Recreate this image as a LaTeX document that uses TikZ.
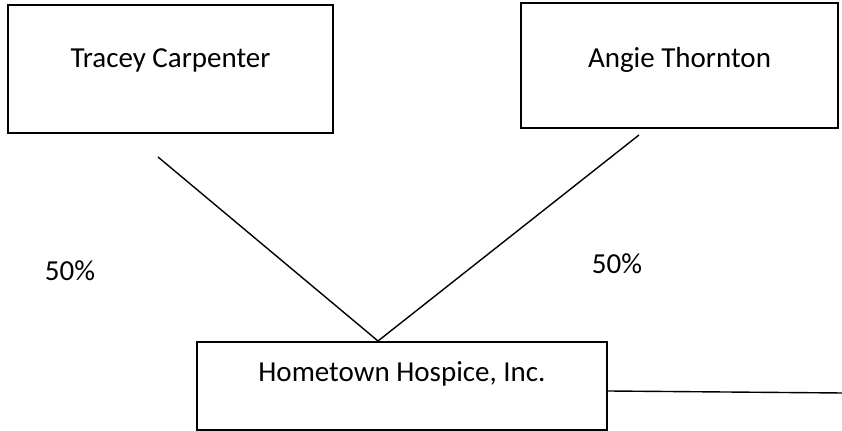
\documentclass[tikz,border=0pt]{standalone}
\usepackage{fontspec}
\setmainfont{Carlito}
\usepackage{tikz}
\usetikzlibrary{positioning, calc}

\begin{document}
\begin{tikzpicture}[x=0.5pt, y=-0.5pt, font=\fontsize{14.5}{17}\selectfont]
\useasboundingbox (0,0) rectangle (842,431);

% Owner boxes
\node[draw, rectangle, line width=1pt, minimum width=162.5pt, minimum height=64pt, inner sep=0pt] (tracey) at (170.5,69) {};
\node[below=19pt of tracey.north] (traceyname) {Tracey Carpenter};

\node[draw, rectangle, line width=1pt, minimum width=158.5pt, minimum height=62.5pt, inner sep=0pt] (angie) at (679.5,65.5) {};
\node[below=19pt of angie.north] (angiename) {Angie Thornton};

% Company box
\node[draw, rectangle, line width=1pt, minimum width=205pt, minimum height=44pt, inner sep=0pt] (hospice) at (402,386) {};
\node[below=6.5pt of hospice.north] (hospicename) {Hometown Hospice, Inc.};

% Ownership lines
\coordinate (tracey-end) at (158,157);
\coordinate (angie-end) at (639,135);
\coordinate (meet) at ($(hospice.north)+(-24,0)$);
\draw[line width=0.7pt] (tracey-end) -- (meet);
\draw[line width=0.7pt] (angie-end) -- (meet);

% Percentages
\node (pct-tracey) at (70,271) {50\%};
\node (pct-angie) at (617,264) {50\%};

% Line to the right
\coordinate (right-end) at (842,393);
\draw[line width=0.7pt] (hospice.east |- 0,391) -- (right-end);
\end{tikzpicture}
\end{document}
